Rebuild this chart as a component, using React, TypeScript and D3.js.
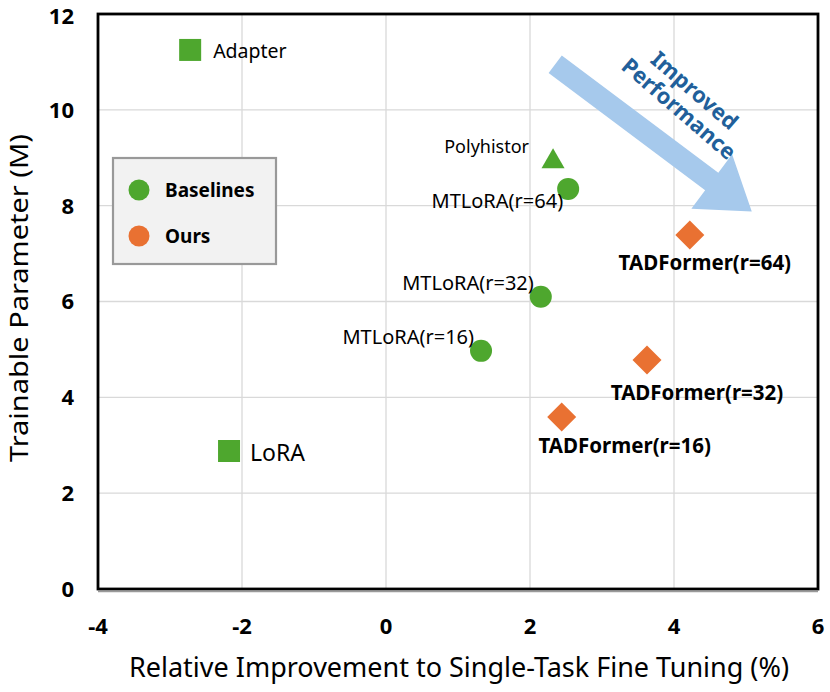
import React from "react";
import * as d3 from "d3";

const baselineNames = ["Adapter", "LoRA", "Polyhistor", "MTLoRA(r=64)", "MTLoRA(r=32)", "MTLoRA(r=16)"];
const baselineX = [-2.72, -2.18, 2.32, 2.53, 2.15, 1.32];
const baselineY = [11.25, 2.88, 8.96, 8.35, 6.1, 4.97];
const baselineShapes = ["square", "square", "triangle", "circle", "circle", "circle"];

const oursNames = ["TADFormer(r=64)", "TADFormer(r=32)", "TADFormer(r=16)"];
const oursX = [4.22, 3.625, 2.44];
const oursY = [7.39, 4.78, 3.59];

const xTicks = [-4, -2, 0, 2, 4, 6];
const yTicks = [0, 2, 4, 6, 8, 10, 12];

const legendLabels = ["Baselines", "Ours"];

const GREEN = "#4ea72e";
const ORANGE = "#e97132";
const FONT = "'Noto Sans', 'Open Sans', sans-serif";

export default function App() {
  const W = 830, H = 692;
  const x = d3.scaleLinear().domain([-4, 6]).range([98, 818]);
  const y = d3.scaleLinear().domain([0, 12]).range([589, 14]);

  const bLabel: { dx: number; dy: number; anchor: string; size: number }[] = [
    { dx: 23, dy: 8, anchor: "start", size: 19.5 },
    { dx: 21, dy: 10, anchor: "start", size: 23 },
    { dx: -24, dy: -7, anchor: "end", size: 18 },
    { dx: -5, dy: 19, anchor: "end", size: 20 },
    { dx: -7, dy: -7, anchor: "end", size: 20 },
    { dx: -7, dy: -7, anchor: "end", size: 20 },
  ];
  const oLabel = [
    { dx: 15, dy: 35, anchor: "middle" },
    { dx: 50, dy: 40, anchor: "middle" },
    { dx: 63, dy: 36, anchor: "middle" },
  ];

  const shape = (s: string, cx: number, cy: number, fill: string, key: string) => {
    if (s === "square") return <rect key={key} x={cx - 11} y={cy - 11} width={22} height={22} fill={fill} />;
    if (s === "triangle") {
      const p = d3.symbol().type(d3.symbolTriangle).size(230)();
      return <path key={key} d={p || ""} transform={`translate(${cx},${cy + 2})`} fill={fill} />;
    }
    if (s === "diamond") {
      const p = `M0,-14.5L14.5,0L0,14.5L-14.5,0Z`;
      return <path key={key} d={p} transform={`translate(${cx},${cy})`} fill={fill} />;
    }
    return <circle key={key} cx={cx} cy={cy} r={11} fill={fill} />;
  };

  // arrow annotation in data coordinates
  const arrowStart = [2.35, 10.95];
  const arrowTip = [5.08, 7.88];
  const ax0 = x(arrowStart[0]), ay0 = y(arrowStart[1]);
  const ax1 = x(arrowTip[0]), ay1 = y(arrowTip[1]);
  const ang = Math.atan2(ay1 - ay0, ax1 - ax0);
  const len = Math.hypot(ax1 - ax0, ay1 - ay0);
  const shaftHalf = 11, headHalf = 34, headLen = 50;
  const arrowPts = [
    [0, -shaftHalf],
    [len - headLen, -shaftHalf],
    [len - headLen, -headHalf],
    [len, 0],
    [len - headLen, headHalf],
    [len - headLen, shaftHalf],
    [0, shaftHalf],
  ];
  const angDeg = (ang * 180) / Math.PI;

  return (
    <svg width={W} height={H} style={{ display: "block", position: "absolute", left: 0, top: 0 }} fontFamily={FONT}>
      <rect width={W} height={H} fill="#fff" />
      {xTicks.slice(1, -1).map((t) => (
        <line key={"gx" + t} x1={x(t)} x2={x(t)} y1={y(12)} y2={y(0)} stroke="#d9d9d9" strokeWidth={1.3} />
      ))}
      {yTicks.slice(1, -1).map((t) => (
        <line key={"gy" + t} x1={x(-4)} x2={x(6)} y1={y(t)} y2={y(t)} stroke="#d9d9d9" strokeWidth={1.3} />
      ))}
      <line x1={x(-4)} x2={x(6)} y1={y(0) + 2.5} y2={y(0) + 2.5} stroke="#9a9a9a" strokeWidth={1.5} />
      <rect x={x(-4)} y={y(12)} width={x(6) - x(-4)} height={y(0) - y(12)} fill="none" stroke="#000" strokeWidth={2.8} />

      {yTicks.map((t) => (
        <text key={"ty" + t} x={74} y={y(t) + (t === 12 ? 2 : 0)} dy="0.36em" textAnchor="end" fontSize={22} fontWeight="bold" fill="#000">
          {t}
        </text>
      ))}
      {xTicks.map((t) => (
        <text key={"tx" + t} x={x(t)} y={626} dy="0.36em" textAnchor="middle" fontSize={22} fontWeight="bold" fill="#000">
          {t}
        </text>
      ))}

      <text x={459} y={677} textAnchor="middle" fontSize={26.5} textLength={660} lengthAdjust="spacingAndGlyphs" fill="#000">
        Relative Improvement to Single-Task Fine Tuning (%)
      </text>
      <text transform={`translate(28,298) rotate(-90)`} textAnchor="middle" fontSize={26} textLength={328} lengthAdjust="spacingAndGlyphs" fill="#000">
        Trainable Parameter (M)
      </text>

      <g transform={`translate(${ax0},${ay0}) rotate(${angDeg})`}>
        <polygon points={arrowPts.map((p) => p.join(",")).join(" ")} fill="#a6c9ec" />
      </g>
      <g transform={`translate(683,104) rotate(${angDeg + 4})`}>
        <text x={0} y={-10} textAnchor="middle" fontSize={22} fontWeight="bold" fill="#215f9a">Improved</text>
        <text x={0} y={14} textAnchor="middle" fontSize={22} fontWeight="bold" fill="#215f9a">Performance</text>
      </g>

      <rect x={113} y={158} width={163} height={106} fill="#f2f2f2" stroke="#999" strokeWidth={2.2} />
      {legendLabels.map((l, i) => (
        <g key={l}>
          <circle cx={139} cy={190 + i * 46} r={10.5} fill={i === 0 ? GREEN : ORANGE} />
          <text x={165} y={190 + i * 46} dy="0.36em" fontSize={19} fontWeight="bold" fill="#000">{l}</text>
        </g>
      ))}

      {baselineNames.map((n, i) => {
        const cx = x(baselineX[i]), cy = y(baselineY[i]);
        const L = bLabel[i];
        return (
          <g key={n}>
            {shape(baselineShapes[i], cx, cy, GREEN, "m")}
            <text x={cx + L.dx} y={cy + L.dy} textAnchor={L.anchor as any} fontSize={L.size} fill="#000">{n}</text>
          </g>
        );
      })}
      {oursNames.map((n, i) => {
        const cx = x(oursX[i]), cy = y(oursY[i]);
        const L = oLabel[i];
        return (
          <g key={n}>
            {shape("diamond", cx, cy, ORANGE, "m")}
            <text x={cx + L.dx} y={cy + L.dy} textAnchor={L.anchor as any} fontSize={20.5} fontWeight="bold" fill="#000">{n}</text>
          </g>
        );
      })}
    </svg>
  );
}
